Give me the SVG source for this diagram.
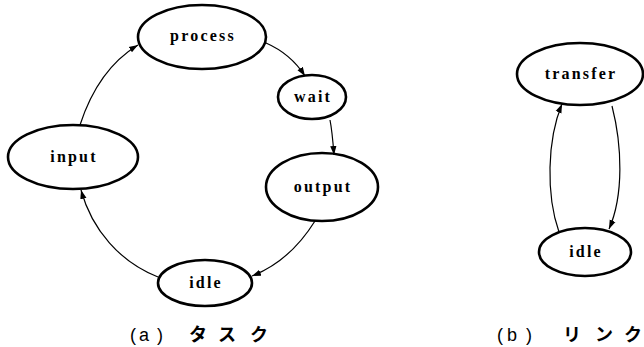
<svg xmlns="http://www.w3.org/2000/svg" width="644" height="347" viewBox="0 0 644 347">
  <style>
    .node ellipse { fill: #fff; stroke: #000; stroke-width: 2.6; }
    .node text { font-family: "Liberation Serif", serif; font-weight: bold; font-size: 16px; letter-spacing: 2.2px; text-anchor: middle; fill: #000; }
    .edges path { fill: none; stroke: #000; stroke-width: 1.2; marker-end: url(#arrow); }
    .caption { font-family: "Liberation Sans", "Noto Sans CJK JP", sans-serif; font-size: 18px; fill: #000; }
    .caption .kana { font-weight: bold; }
  </style>
  <defs>
    <marker id="arrow" viewBox="0 0 10 10" refX="10" refY="5" markerWidth="9" markerHeight="9" markerUnits="userSpaceOnUse" orient="auto">
      <path d="M0,1.5 L10,5 L0,8.5 Z" fill="#000"/>
    </marker>
  </defs>
  <rect width="644" height="347" fill="#fff"/>

  <!-- (a) task state graph -->
  <g id="process" class="node">
    <ellipse cx="202" cy="37" rx="64" ry="32"/>
    <text x="203" y="41">process</text>
  </g>
  <g id="wait" class="node">
    <ellipse cx="312" cy="97" rx="34" ry="22"/>
    <text x="313" y="102">wait</text>
  </g>
  <g id="input" class="node">
    <ellipse cx="73" cy="157" rx="65" ry="32"/>
    <text x="74" y="162">input</text>
  </g>
  <g id="output" class="node">
    <ellipse cx="322" cy="187" rx="56" ry="34"/>
    <text x="323" y="192">output</text>
  </g>
  <g id="idle-a" class="node">
    <ellipse cx="205" cy="283" rx="47" ry="23"/>
    <text x="206" y="288">idle</text>
  </g>

  <!-- (b) link state graph -->
  <g id="transfer" class="node">
    <ellipse cx="580" cy="74" rx="63" ry="31"/>
    <text x="581" y="79">transfer</text>
  </g>
  <g id="idle-b" class="node">
    <ellipse cx="585" cy="252" rx="46" ry="24"/>
    <text x="586" y="257">idle</text>
  </g>

  <g id="connectors" class="edges">
    <path d="M80,125 C92,88 110,62 138,45"/>
    <path d="M266,43 C282,50 296,62 305,76"/>
    <path d="M330,120 C332,130 333,142 334,155"/>
    <path d="M315,221 C300,245 280,265 252,276"/>
    <path d="M158,277 C120,262 92,230 81,190"/>
    <path d="M612,106 C622,145 624,195 609,229"/>
    <path d="M559,232 C546,195 547,140 562,104"/>
  </g>

  <text class="caption" y="341"><tspan x="130">(</tspan><tspan x="139">a</tspan><tspan x="157">)</tspan><tspan class="kana" x="189">タ</tspan><tspan class="kana" x="218">ス</tspan><tspan class="kana" x="250">ク</tspan></text>
  <text class="caption" y="341"><tspan x="497">(</tspan><tspan x="507">b</tspan><tspan x="526">)</tspan><tspan class="kana" x="563">リ</tspan><tspan class="kana" x="595">ン</tspan><tspan class="kana" x="624">ク</tspan></text>
</svg>
